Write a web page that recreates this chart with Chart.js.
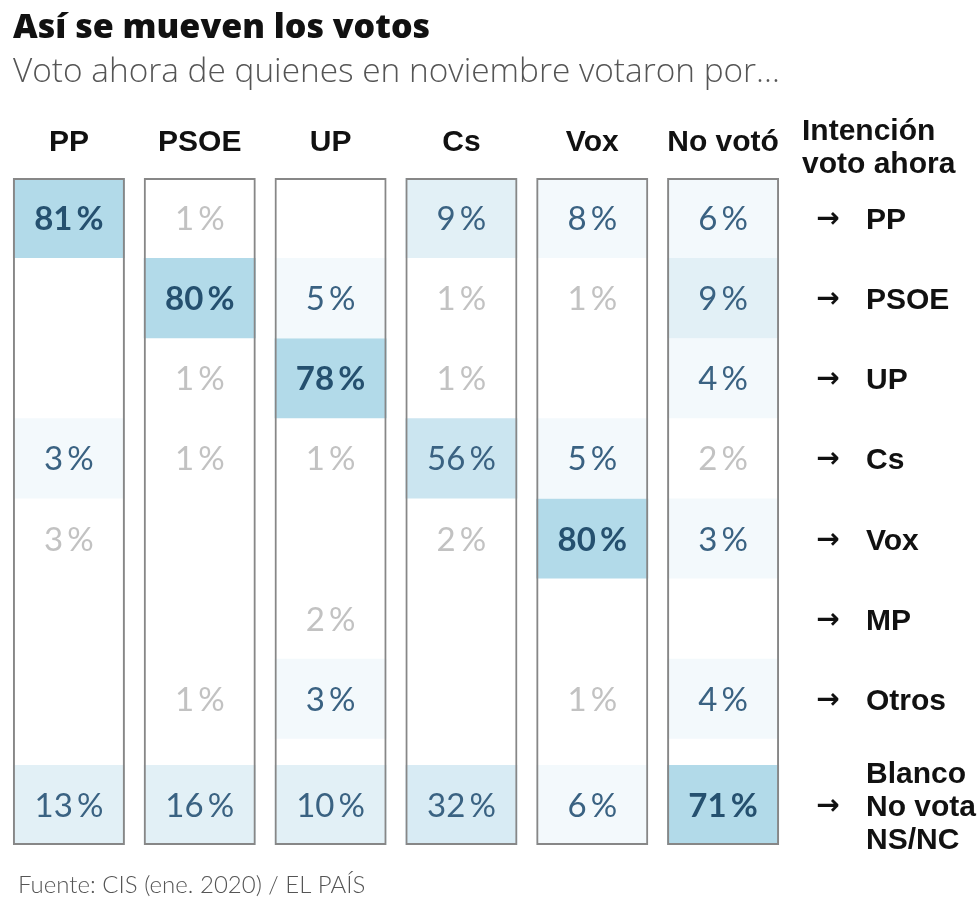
<!DOCTYPE html>
<html>
<head>
<meta charset="utf-8">
<script src="https://cdn.jsdelivr.net/npm/chart.js@4.4.1/dist/chart.umd.min.js"></script>
<style>
  html, body { margin: 0; padding: 0; background: #ffffff; }
  #wrap { width: 980px; height: 914px; position: relative; }
</style>
</head>
<body>
<div id="wrap"><canvas id="chart"></canvas></div>
<script>
// ---- Data ----
const originParties = ['PP', 'PSOE', 'UP', 'Cs', 'Vox', 'No votó'];
const destParties = ['PP', 'PSOE', 'UP', 'Cs', 'Vox', 'MP', 'Otros', ['Blanco', 'No vota', 'NS/NC']];

// Percent of each November electorate by current vote intention (rows follow destParties); null = no value shown
const fromPP     = [81, null, null, 3, 2.6, null, null, 13];
const fromPSOE   = [1, 80, 1, 1, null, null, 1, 16];
const fromUP     = [null, 5, 78, 1, null, 2, 3, 10];
const fromCs     = [9, 1, 1, 56, 2, null, null, 32];
const fromVox    = [8, 1, null, 5, 80, null, 1, 6];
const fromNoVoto = [6, 9, 4, 2, 3, null, 4, 71];

const titleText = 'Así se mueven los votos';
const subtitleText = 'Voto ahora de quienes en noviembre votaron por…';
const destHeader = ['Intención', 'voto ahora'];
const sourceText = 'Fuente: CIS (ene. 2020) / EL PAÍS';

// ---- Build ----
const columns = [fromPP, fromPSOE, fromUP, fromCs, fromVox, fromNoVoto];
const LAST_GAP = 0.325;                       // space before the last row, in row units
const lastRow = destParties.length - 1;
const rowStart = r => r + (r === lastRow ? LAST_GAP : 0);
const yMax = destParties.length + LAST_GAP;

const LABELFONT = "'Liberation Sans', Arial, sans-serif";
const NUMFONT = "Lato, 'Open Sans', sans-serif";

function cellFill(v) {
  if (v == null) return 'rgba(0,0,0,0)';
  if (v >= 70) return '#b2dae9';
  if (v >= 40) return '#cbe5f0';
  if (v >= 25) return '#d8ebf4';
  if (v >= 9)  return '#e2f0f6';
  if (v >= 3)  return '#f3f9fc';
  return 'rgba(255,255,255,0)';
}
function cellText(v) {
  if (v >= 70) return { color: '#25506f', weight: '700' };
  if (v >= 3)  return { color: '#3a6282', weight: '400' };
  return { color: '#c2c2c2', weight: '400' };
}

const BAR_PCT = 0.856;

const cellDatasets = destParties.map((lab, r) => ({
  label: Array.isArray(lab) ? lab.join(' / ') : lab,
  data: columns.map(col => col[r] == null ? null : [rowStart(r), rowStart(r) + 1]),
  cellValues: columns.map(col => col[r]),
  backgroundColor: ctx => cellFill(ctx.dataset.cellValues[ctx.dataIndex]),
  borderWidth: 0,
  grouped: false,
  barPercentage: BAR_PCT,
  categoryPercentage: 1,
  order: 2
}));

const frameDataset = {
  label: 'frame',
  isFrame: true,
  data: columns.map(() => [0, yMax]),
  backgroundColor: 'rgba(0,0,0,0)',
  borderColor: '#878787',
  borderWidth: 2,
  borderSkipped: false,
  grouped: false,
  barPercentage: BAR_PCT,
  categoryPercentage: 1,
  order: 1
};

const decorPlugin = {
  id: 'decor',
  afterDatasetsDraw(chart) {
    const ctx = chart.ctx;
    const yScale = chart.scales.y;
    ctx.save();
    // cell values
    chart.data.datasets.forEach((ds, di) => {
      if (ds.isFrame) return;
      const meta = chart.getDatasetMeta(di);
      meta.data.forEach((el, i) => {
        const v = ds.cellValues[i];
        if (v == null) return;
        const p = el.getProps(['x', 'y', 'base'], true);
        const cy = (p.y + p.base) / 2;
        const st = cellText(v);
        ctx.font = `${st.weight} 33px ${NUMFONT}`;
        ctx.fillStyle = st.color;
        ctx.textAlign = 'center';
        ctx.textBaseline = 'alphabetic';
        ctx.fillText(`${Math.round(v)}\u2009%`, p.x, cy + 12);
      });
    });
    // row labels with arrows
    destParties.forEach((lab, r) => {
      const cy = yScale.getPixelForValue(rowStart(r) + 0.5);
      ctx.fillStyle = '#111';
      ctx.textBaseline = 'alphabetic';
      ctx.textAlign = 'center';
      ctx.font = `bold 28px 'DejaVu Sans', sans-serif`;
      ctx.fillText('→', 828, cy + 9);
      ctx.textAlign = 'left';
      ctx.font = `bold 30px ${LABELFONT}`;
      const lines = Array.isArray(lab) ? lab : [lab];
      const lh = 33;
      lines.forEach((t, k) => {
        const ly = cy + (k - (lines.length - 1) / 2) * lh;
        ctx.fillText(t, 866, ly + 11);
      });
    });
    ctx.restore();
  },
  afterDraw(chart) {
    const ctx = chart.ctx;
    ctx.save();
    ctx.textAlign = 'left';
    ctx.textBaseline = 'alphabetic';
    ctx.fillStyle = '#111';
    ctx.font = "800 34px 'Open Sans', sans-serif";
    ctx.fillText(titleText, 13, 38);
    ctx.fillStyle = '#555';
    ctx.font = "300 33.4px 'Open Sans', sans-serif";
    ctx.fillText(subtitleText, 13, 82);
    ctx.fillStyle = '#111';
    ctx.font = `bold 30px ${LABELFONT}`;
    ctx.fillText(destHeader[0], 802, 140);
    ctx.fillText(destHeader[1], 802, 173);
    ctx.fillStyle = '#555';
    ctx.font = "300 24px Lato, sans-serif";
    ctx.fillText(sourceText, 18, 893);
    ctx.restore();
  }
};

new Chart(document.getElementById('chart'), {
  type: 'bar',
  data: {
    labels: originParties,
    datasets: [frameDataset, ...cellDatasets]
  },
  options: {
    responsive: true,
    maintainAspectRatio: false,
    animation: false,
    events: [],
    layout: { padding: { top: 108, bottom: 69, left: 3.5, right: 191.5 } },
    plugins: {
      legend: { display: false },
      tooltip: { enabled: false },
      title: { display: false }
    },
    scales: {
      x: {
        type: 'category',
        position: 'top',
        offset: true,
        grid: { display: false, drawTicks: false },
        border: { display: false },
        ticks: {
          color: '#111',
          padding: 17,
          maxRotation: 0,
          autoSkip: false,
          font: { family: LABELFONT, size: 30, weight: 'bold', lineHeight: 1.2 }
        }
      },
      y: {
        type: 'linear',
        display: false,
        reverse: true,
        min: 0,
        max: yMax
      }
    }
  },
  plugins: [decorPlugin]
});
</script>
</body>
</html>
